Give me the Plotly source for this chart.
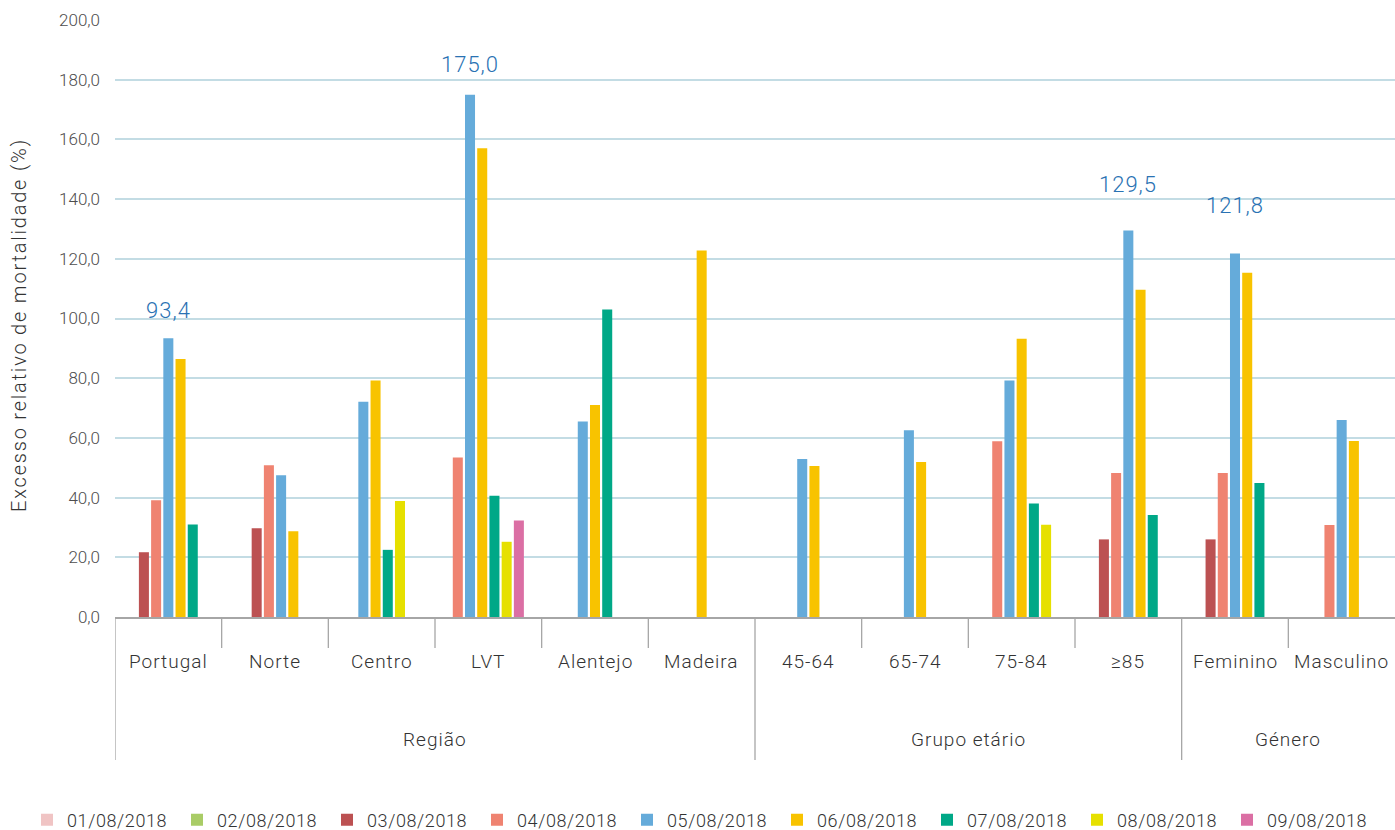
import plotly.graph_objects as go

categories = ["Portugal", "Norte", "Centro", "LVT", "Alentejo", "Madeira",
              "45-64", "65-74", "75-84", "≥85", "Feminino", "Masculino"]
groups = ["Região", "Grupo etário", "Género"]
group_sizes = [6, 4, 2]
dates = ["01/08/2018", "02/08/2018", "03/08/2018", "04/08/2018", "05/08/2018",
         "06/08/2018", "07/08/2018", "08/08/2018", "09/08/2018"]

N = None
d01 = [N, N, N, N, N, N, N, N, N, N, N, N]
d02 = [N, N, N, N, N, N, N, N, N, N, N, N]
d03 = [21.7, 29.7, N, N, N, N, N, N, N, 26.0, 26.0, N]
d04 = [39.1, 50.8, N, 53.4, N, N, N, N, 58.9, 48.2, 48.2, 30.8]
d05 = [93.4, 47.5, 72.1, 175.0, 65.5, N, 52.9, 62.6, 79.2, 129.5, 121.8, 66.0]
d06 = [86.4, 28.7, 79.2, 157.0, 71.0, 122.8, 50.6, 51.9, 93.2, 109.6, 115.3, 59.0]
d07 = [31.0, N, 22.5, 40.6, 103.0, N, N, N, 38.0, 34.2, 44.9, N]
d08 = [N, N, 38.9, 25.2, N, N, N, N, 30.9, N, N, N]
d09 = [N, N, N, 32.3, N, N, N, N, N, N, N, N]
series = [d01, d02, d03, d04, d05, d06, d07, d08, d09]

# labelled values: (category, series index)
labelled = [("Portugal", 4), ("LVT", 4), ("≥85", 4), ("Feminino", 4)]

colors = ["#F0C4C4", "#A9CC66", "#BC5152", "#EF8371", "#65ABDA",
          "#F8C300", "#00A887", "#E6E000", "#DB6FA4"]

SLOT = 0.1145
BW = 0.094
TXT = "#333333"
FONT = "Roboto, Liberation Sans, sans-serif"


def ls(t, px):
    return f'<span style="letter-spacing:{px}px">{t}</span>'


# positions: only non-empty bars of each category are shown, centred
xpos = [[float(i) for i in range(len(categories))] for _ in series]
for i in range(len(categories)):
    present = [s for s in range(len(series)) if series[s][i] is not None]
    n = len(present)
    for r, s in enumerate(present):
        xpos[s][i] = i + (r - (n - 1) / 2) * SLOT

fig = go.Figure()
for s, (name, vals) in enumerate(zip(dates, series)):
    fig.add_trace(go.Bar(
        x=xpos[s], y=vals, name=ls(name, 0.6), width=BW,
        marker=dict(color=colors[s], line=dict(width=0)),
        legend="legend" if s < 5 else "legend2",
    ))

H = 597.0
BOTTOM = 617.0


def py(pixel_y):
    return (BOTTOM - pixel_y) / H


annotations = []
label_shift = [28, 30, 46, 48]
for (cat, s), sh in zip(labelled, label_shift):
    i = categories.index(cat)
    v = series[s][i]
    annotations.append(dict(
        x=xpos[s][i], y=v, xref="x", yref="y", yanchor="middle",
        yshift=sh, showarrow=False,
        text=ls(f"{v:.1f}".replace(".", ","), 1),
        font=dict(family=FONT, size=22, color="#2A72B3", weight=300)))

for i, c in enumerate(categories):
    annotations.append(dict(
        x=i, y=py(661), xref="x", yref="paper", showarrow=False,
        yanchor="middle", text=ls(c, 1),
        font=dict(family=FONT, size=19, color=TXT, weight=300)))

start = 0
shapes = []
for g, n in zip(groups, group_sizes):
    annotations.append(dict(
        x=start + (n - 1) / 2, y=py(739), xref="x", yref="paper",
        showarrow=False, yanchor="middle", text=ls(g, 1),
        font=dict(family=FONT, size=19, color=TXT, weight=300)))
    shapes.append(dict(type="line", xref="x", yref="paper",
                       x0=start - 0.5, x1=start - 0.5, y0=0, y1=py(760),
                       line=dict(color="#A6A6A6", width=1.3)))
    for k in range(1, n):
        shapes.append(dict(type="line", xref="x", yref="paper",
                           x0=start + k - 0.5, x1=start + k - 0.5,
                           y0=0, y1=py(648),
                           line=dict(color="#A6A6A6", width=1.3)))
    start += n

annotations.append(dict(
    x=(19 - 115) / 1280, y=py(325), xref="paper", yref="paper",
    showarrow=False, textangle=-90, xanchor="center", yanchor="middle",
    text=ls("Excesso relativo de mortalidade (%)", 1.8),
    font=dict(family=FONT, size=20, color=TXT, weight=300)))

legend_common = dict(orientation="h", xref="container", yref="container",
                     xanchor="left", y=0.012, yanchor="middle",
                     entrywidth=105, entrywidthmode="pixels",
                     font=dict(family=FONT, size=18, color=TXT, weight=300),
                     traceorder="normal", bgcolor="rgba(0,0,0,0)")

fig.update_layout(
    width=1395, height=830,
    margin=dict(l=115, r=0, t=20, b=213),
    paper_bgcolor="white", plot_bgcolor="white",
    barmode="overlay",
    separators=", ",
    font=dict(family=FONT, color=TXT, weight=300),
    showlegend=True,
    legend=dict(x=27 / 1395, **legend_common),
    legend2=dict(x=777 / 1395, **legend_common),
    xaxis=dict(range=[-0.5, len(categories) - 0.5], showticklabels=False,
               showgrid=False, zeroline=False, showline=True,
               linecolor="#A6A6A6", linewidth=2, ticks=""),
    yaxis=dict(range=[0, 200], dtick=20, tickformat=".1f",
               showgrid=True, gridcolor="#C3DCE4", gridwidth=1.5,
               zeroline=False, showline=False, ticks="",
               ticklabelstandoff=14,
               tickfont=dict(family=FONT, size=17, color="#4D4D4D",
                             weight=300)),
    annotations=annotations,
    shapes=shapes,
)

fig.write_html("out.html",
               config={"displayModeBar": False},
               post_script="document.body.style.margin='0';"
                           "document.body.style.overflow='hidden';")
